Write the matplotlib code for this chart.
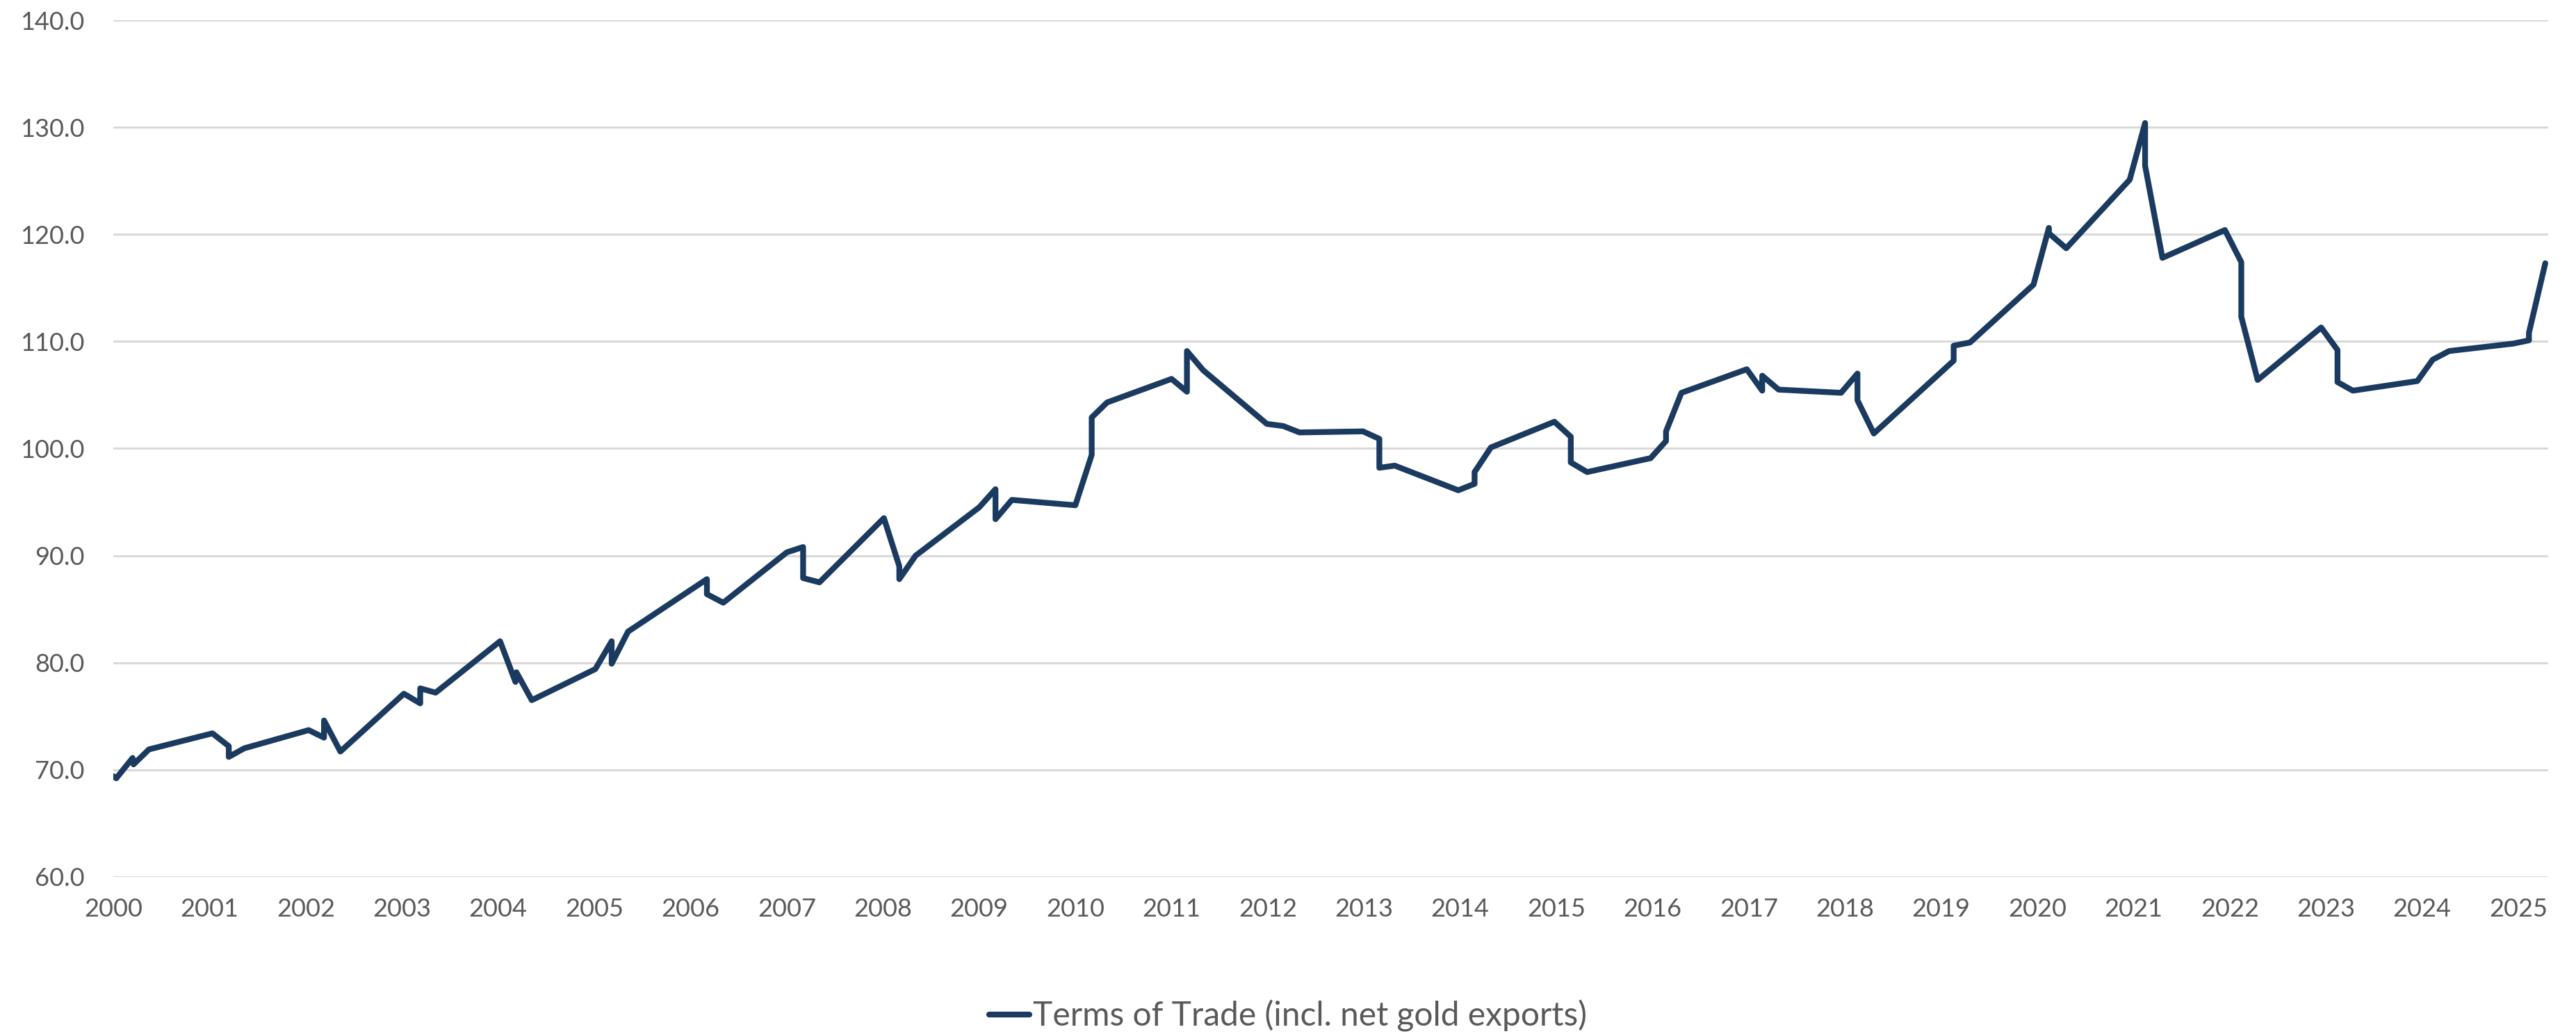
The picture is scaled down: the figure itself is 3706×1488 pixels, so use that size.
import matplotlib
matplotlib.use("Agg")
import matplotlib.pyplot as plt

# --- DATA (fractional year, index value) ---
dates = [
    2000.00, 2000.03, 2000.20, 2000.21, 2000.37,
    2001.03, 2001.20, 2001.20, 2001.36,
    2002.03, 2002.19, 2002.19, 2002.36,
    2003.02, 2003.19, 2003.19, 2003.35,
    2004.02, 2004.18, 2004.19, 2004.35,
    2005.01, 2005.18, 2005.18, 2005.35,
    2006.17, 2006.17, 2006.34,
    2007.00, 2007.17, 2007.17, 2007.34,
    2008.01, 2008.17, 2008.17, 2008.34,
    2009.00, 2009.17, 2009.17, 2009.34,
    2010.00, 2010.17, 2010.17, 2010.33,
    2011.00, 2011.16, 2011.16, 2011.33,
    2011.99, 2012.16, 2012.33,
    2012.99, 2013.16, 2013.16, 2013.32,
    2013.98, 2014.15, 2014.15, 2014.32,
    2014.98, 2015.15, 2015.15, 2015.32,
    2015.98, 2016.14, 2016.14, 2016.30,
    2016.98, 2017.14, 2017.14, 2017.31,
    2017.96, 2018.13, 2018.13, 2018.30,
    2019.13, 2019.13, 2019.30,
    2019.96, 2020.12, 2020.12, 2020.30,
    2020.96, 2021.12, 2021.12, 2021.30,
    2021.95, 2022.12, 2022.12, 2022.29,
    2022.95, 2023.12, 2023.12, 2023.28,
    2023.95, 2024.11, 2024.28,
    2024.95, 2025.11, 2025.11, 2025.28,
]
tot = [
    69.4, 69.2, 71.1, 70.5, 71.9,
    73.4, 72.2, 71.2, 72.0,
    73.7, 73.0, 74.6, 71.7,
    77.1, 76.2, 77.6, 77.2,
    82.0, 78.2, 79.1, 76.5,
    79.4, 82.0, 79.9, 82.9,
    87.8, 86.4, 85.6,
    90.3, 90.8, 87.9, 87.5,
    93.5, 89.0, 87.8, 90.0,
    94.5, 96.2, 93.4, 95.2,
    94.7, 99.4, 102.9, 104.3,
    106.5, 105.3, 109.1, 107.3,
    102.3, 102.1, 101.5,
    101.6, 100.9, 98.2, 98.4,
    96.1, 96.7, 97.8, 100.1,
    102.5, 101.1, 98.7, 97.8,
    99.1, 100.7, 101.6, 105.2,
    107.4, 105.4, 106.8, 105.5,
    105.2, 107.0, 104.5, 101.4,
    108.2, 109.6, 109.9,
    115.3, 120.6, 120.1, 118.7,
    125.1, 130.4, 126.4, 117.8,
    120.4, 117.4, 112.3, 106.4,
    111.3, 109.2, 106.2, 105.4,
    106.3, 108.3, 109.1,
    109.8, 110.1, 110.8, 117.3,
]
years = list(range(2000, 2026))
y_ticks = [60, 70, 80, 90, 100, 110, 120, 130, 140]
series_label = "Terms of Trade (incl. net gold exports)"

LINE_COLOR = "#1b3a60"
GRID_COLOR = "#d9d9d9"
TEXT_COLOR = "#595959"

plt.rcParams["font.family"] = ["Lato", "DejaVu Sans"]

fig = plt.figure(figsize=(37.06, 14.88), dpi=100)
ax = fig.add_axes([0.044, 0.152, 0.9452, 0.8285])

ax.plot(dates, tot, color=LINE_COLOR, lw=6, solid_joinstyle="round",
        solid_capstyle="round", label=series_label, zorder=3)

ax.set_xlim(2000.0, 2025.31)
ax.set_ylim(60, 140)
ax.set_yticks(y_ticks)
ax.set_yticklabels([f"{v:.1f}" for v in y_ticks])
ax.set_xticks(years)
ax.set_xticklabels([str(y) for y in years])

ax.grid(axis="y", color=GRID_COLOR, lw=2.2, zorder=0)
ax.grid(axis="x", visible=False)
for s in ax.spines.values():
    s.set_visible(False)
ax.tick_params(axis="both", length=0, labelsize=26, labelcolor=TEXT_COLOR)
ax.tick_params(axis="y", pad=30)
ax.tick_params(axis="x", pad=22)

fig.legend(loc="center", bbox_to_anchor=(0.5, 0.0175), frameon=False,
           fontsize=34.5, labelcolor=TEXT_COLOR, handlelength=1.2,
           handletextpad=0.1)

fig.savefig("out.png", dpi=100, facecolor="white")
